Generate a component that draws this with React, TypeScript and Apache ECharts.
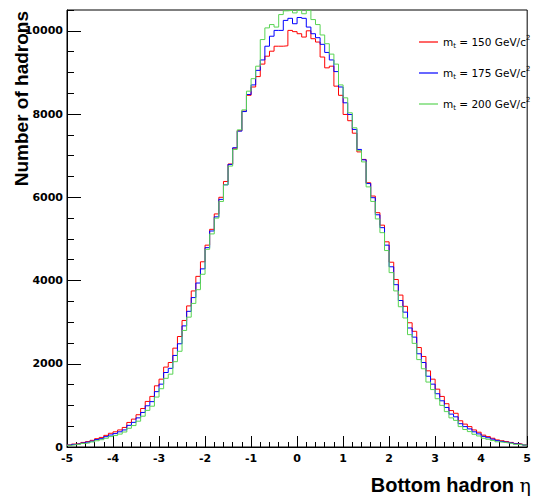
import React, { useEffect, useRef } from "react";
import * as echarts from "echarts";

// Histogram binning (100 bins from -5 to 5)
const BIN_LOW = -5;
const BIN_WIDTH = 0.1;

// Top-quark masses (GeV/c^2) of the three samples and their colours
const TOP_MASSES = [150, 175, 200];
const COLORS = ["#ff0000", "#0000ff", "#59d454"];

// Bin contents
const counts150 = [
  50, 70, 85, 110, 130, 160, 200, 230, 280, 330,
  365, 410, 470, 590, 670, 775, 925, 1095, 1215, 1470,
  1630, 1920, 2030, 2375, 2655, 3040, 3390, 3750, 4100, 4450,
  4850, 5230, 5600, 6000, 6380, 6800, 7180, 7600, 8070, 8450,
  8650, 8900, 9200, 9390, 9510, 9630, 9630, 9640, 10010, 9980,
  9930, 9850, 10000, 9810, 9730, 9370, 9110, 9150, 8670, 8450,
  7990, 7840, 7540, 7090, 6910, 6350, 6030, 5630, 5330, 4930,
  4440, 4025, 3650, 3380, 2985, 2780, 2390, 2175, 1830, 1630,
  1390, 1215, 1040, 875, 810, 630, 550, 490, 410, 355,
  285, 250, 210, 170, 150, 130, 110, 85, 70, 50,
];

const counts175 = [
  45, 62, 78, 95, 116, 140, 178, 200, 248, 288,
  322, 365, 410, 520, 592, 700, 830, 990, 1090, 1330,
  1510, 1790, 1890, 2200, 2480, 2910, 3260, 3590, 3940, 4280,
  4790, 5190, 5530, 5950, 6300, 6790, 7190, 7590, 8060, 8470,
  8700, 9050, 9300, 9630, 9870, 10010, 10010, 10250, 10300, 10170,
  10320, 10300, 10090, 9930, 9835, 9675, 9480, 9300, 9020, 8650,
  8270, 7990, 7630, 7150, 6900, 6330, 5990, 5580, 5270, 4850,
  4330, 3900, 3520, 3240, 2860, 2640, 2240, 2030, 1700, 1510,
  1280, 1110, 950, 790, 725, 560, 490, 435, 365, 315,
  255, 222, 188, 152, 134, 116, 98, 76, 62, 45,
];

const counts200 = [
  40, 55, 65, 85, 100, 122, 150, 175, 210, 250,
  275, 310, 360, 450, 515, 620, 740, 880, 980, 1200,
  1400, 1650, 1750, 2050, 2300, 2800, 3120, 3450, 3780, 4150,
  4750, 5120, 5500, 5900, 6300, 6750, 7150, 7620, 8100, 8550,
  8850, 9150, 9790, 10070, 10150, 10090, 10390, 10480, 10490, 10430,
  10490, 10410, 10490, 10270, 10150, 9900, 9690, 9440, 9200, 8700,
  8390, 8030, 7670, 7120, 6850, 6250, 5900, 5480, 5150, 4720,
  4190, 3750, 3370, 3100, 2700, 2490, 2100, 1880, 1560, 1380,
  1160, 1000, 850, 700, 640, 490, 420, 370, 305, 265,
  210, 185, 155, 125, 112, 97, 82, 64, 52, 40,
];

const ALL_COUNTS = [counts150, counts175, counts200];

// Axis ranges and tick steps
const X_MIN = -5;
const X_MAX = 5;
const X_STEP = 1;
const Y_MIN = 0;
const Y_MAX = 10500;
const Y_STEP = 2000;
const Y_MINOR_STEP = 500;

const X_TITLE = "Bottom hadron ";
const X_TITLE_SYMBOL = "η";
const Y_TITLE = "Number of hadrons";

function toSteps(counts: number[]): number[][] {
  const pts = counts.map((v, i) => [+(BIN_LOW + i * BIN_WIDTH).toFixed(2), v]);
  pts.push([+(BIN_LOW + counts.length * BIN_WIDTH).toFixed(2), counts[counts.length - 1]]);
  return pts;
}

const seriesName = (m: number) => `m_t = ${m} GeV/c^2`;

export default function App() {
  const ref = useRef<HTMLDivElement>(null);

  useEffect(() => {
    if (!ref.current) return;
    const chart = echarts.init(ref.current, null, { renderer: "svg" });
    const tickFont = { fontFamily: "DejaVu Sans", fontWeight: "bold" as const, fontSize: 11, color: "#000" };
    const legendMap: Record<string, string> = {};
    TOP_MASSES.forEach((m) => {
      legendMap[seriesName(m)] = `{m|m}{s|t}{m| = ${m} GeV/c}{p|2}`;
    });

    chart.setOption({
      animation: false,
      backgroundColor: "#fff",
      grid: {
        left: 67,
        right: 2,
        top: 10,
        bottom: 52,
        show: true,
        borderColor: "#000",
        borderWidth: 1,
        backgroundColor: "transparent",
      },
      legend: {
        orient: "vertical",
        left: 414,
        top: 29,
        icon: "rect",
        itemWidth: 19,
        itemHeight: 1.2,
        itemGap: 15,
        data: TOP_MASSES.map(seriesName),
        formatter: (name: string) => legendMap[name],
        textStyle: {
          color: "#000",
          fontFamily: "DejaVu Sans",
          fontSize: 10.5,
          rich: {
            m: { fontFamily: "DejaVu Sans", fontSize: 10.5, lineHeight: 16, color: "#000" },
            s: { fontFamily: "DejaVu Sans", fontSize: 7, lineHeight: 10, verticalAlign: "bottom", color: "#000" },
            p: { fontFamily: "DejaVu Sans", fontSize: 7, lineHeight: 11, verticalAlign: "top", color: "#000" },
          },
        },
      },
      xAxis: {
        type: "value",
        min: X_MIN,
        max: X_MAX,
        interval: X_STEP,
        axisLine: { show: true, onZero: false, lineStyle: { color: "#000", width: 1 } },
        axisTick: { show: true, inside: true, length: 11, lineStyle: { color: "#000", width: 1 } },
        minorTick: { show: true, splitNumber: 5, length: 5, lineStyle: { color: "#000", width: 1 } },
        axisLabel: { ...tickFont, margin: 6, showMinLabel: true, showMaxLabel: true },
        splitLine: { show: false },
      },
      yAxis: [
        {
          type: "value",
          min: Y_MIN,
          max: Y_MAX,
          interval: Y_STEP,
          position: "left",
          axisLine: { show: true, onZero: false, lineStyle: { color: "#000", width: 1 } },
          axisTick: { show: true, inside: true, length: 14, lineStyle: { color: "#000", width: 1 } },
          axisLabel: {
            ...tickFont,
            margin: 4,
            showMaxLabel: false,
            formatter: (v: number) => (v % Y_STEP === 0 ? String(v) : ""),
          },
          splitLine: { show: false },
        },
        {
          type: "value",
          min: Y_MIN,
          max: Y_MAX,
          interval: Y_MINOR_STEP,
          position: "left",
          axisLine: { show: false, onZero: false },
          axisTick: { show: true, inside: true, length: 7, lineStyle: { color: "#000", width: 1 } },
          axisLabel: { show: false },
          splitLine: { show: false },
        },
      ],
      series: ALL_COUNTS.map((counts, i) => ({
        name: seriesName(TOP_MASSES[i]),
        type: "line",
        step: "end",
        symbol: "none",
        yAxisIndex: 0,
        data: toSteps(counts),
        color: COLORS[i],
        lineStyle: { color: COLORS[i], width: 1 },
        z: 2 + i,
      })),
      graphic: [
        {
          type: "text",
          x: 531,
          y: 484.5,
          style: {
            text: `{a|${X_TITLE}}{b|${X_TITLE_SYMBOL}}`,
            align: "right",
            verticalAlign: "middle",
            rich: {
              a: { fontFamily: "Liberation Sans", fontWeight: "bold", fontSize: 20, fill: "#000" },
              b: { fontFamily: "DejaVu Serif", fontWeight: "normal", fontSize: 19, fill: "#000" },
            },
          },
        },
        {
          type: "text",
          x: 21,
          y: 11,
          rotation: Math.PI / 2,
          style: {
            text: Y_TITLE,
            align: "right",
            verticalAlign: "middle",
            fontFamily: "Liberation Sans",
            fontWeight: "bold",
            fontSize: 19,
            fill: "#000",
          },
        },
      ],
    });
    return () => chart.dispose();
  }, []);

  return (
    <div
      ref={ref}
      style={{ position: "fixed", left: 0, top: 0, width: 534, height: 499, background: "#fff" }}
    />
  );
}
